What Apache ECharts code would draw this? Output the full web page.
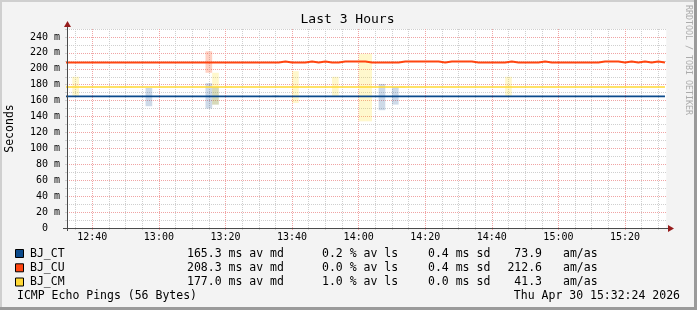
<!DOCTYPE html>
<html><head><meta charset="utf-8">
<style>html,body{margin:0;padding:0;background:#f3f3f3;}#c{width:697px;height:310px;}</style>
<script src="https://cdn.jsdelivr.net/npm/echarts@6/dist/echarts.min.js"></script>
</head><body><div id="c"></div>
<script>
// ---- data ----
const stepTimes = [
"12:32","12:34","12:36","12:38","12:40","12:42","12:44","12:46","12:48","12:50",
"12:52","12:54","12:56","12:58","13:00","13:02","13:04","13:06","13:08","13:10",
"13:12","13:14","13:16","13:18","13:20","13:22","13:24","13:26","13:28","13:30",
"13:32","13:34","13:36","13:38","13:40","13:42","13:44","13:46","13:48","13:50",
"13:52","13:54","13:56","13:58","14:00","14:02","14:04","14:06","14:08","14:10",
"14:12","14:14","14:16","14:18","14:20","14:22","14:24","14:26","14:28","14:30",
"14:32","14:34","14:36","14:38","14:40","14:42","14:44","14:46","14:48","14:50",
"14:52","14:54","14:56","14:58","15:00","15:02","15:04","15:06","15:08","15:10",
"15:12","15:14","15:16","15:18","15:20","15:22","15:24","15:26","15:28","15:30"];
const stepEnd = "15:32";
const ctMedian = [
165.3,165.3,165.3,165.3,165.3,165.3,165.3,165.3,165.3,165.3,
165.3,165.3,165.3,165.3,165.3,165.3,165.3,165.3,165.3,165.3,
165.3,165.3,165.3,165.3,165.3,165.3,165.3,165.3,165.3,165.3,
165.3,165.3,165.3,165.3,165.3,165.3,165.3,165.3,165.3,165.3,
165.3,165.3,165.3,165.3,165.3,165.3,165.3,165.3,165.3,165.3,
165.3,165.3,165.3,165.3,165.3,165.3,165.3,165.3,165.3,165.3,
165.3,165.3,165.3,165.3,165.3,165.3,165.3,165.3,165.3,165.3,
165.3,165.3,165.3,165.3,165.3,165.3,165.3,165.3,165.3,165.3,
165.3,165.3,165.3,165.3,165.3,165.3,165.3,165.3,165.3,165.3];
const cuMedian = [
208,208,208,208,208,208,208,208,208,208,
208,208,208,208,208,208,208,208,208,208,
208,208,208,208,208,208,208,208,208,208,
208,208,209.2,208,208,208,209.2,208,209.2,208,
208,209.2,209.2,209.2,209.2,208,208,208,208,208,
209.2,209.2,209.2,209.2,209.2,209.2,208,209.2,209.2,209.2,
209.2,208,208,208,208,208,209.2,208,208,208,
208,209.2,208,208,208,208,208,208,208,208,
209.2,209.2,209.2,208,209.2,208,209.2,208,209.2,208];
const cmMedian = [
177,177,177,177,177,177,177,177,177,177,
177,177,177,177,177,177,177,177,177,177,
177,177,177,177,177,177,177,177,177,177,
177,177,177,177,177,177,177,177,177,177,
177,177,177,177,177,177,177,177,177,177,
177,177,177,177,177,177,177,177,177,177,
177,177,177,177,177,177,177,177,177,177,
177,177,177,177,177,177,177,177,177,177,
177,177,177,177,177,177,177,177,177,177];
// smoke: [step start, min, max]
const ctSmoke = [["12:56",153,176],["13:14",150,182],["13:16",155,177],["13:34",164.5,166.5],["14:06",148,181],["14:10",155,177]];
const cuSmoke = [["13:14",195,222]];
const cmSmoke = [["12:34",165,190],["12:48",176,178],["12:50",176,178],["13:16",155,195],["13:20",176,178.5],["13:40",157,197],["13:52",166,190],["14:00",134,219],["14:02",134,219],["14:12",176,178.5],["14:44",166,190]];
const stepMinutes = 2;
const xStart = "12:32:24", xEnd = "15:32:24";
const xTickLabels = ["12:40","13:00","13:20","13:40","14:00","14:20","14:40","15:00","15:20"];
const xMinorStep = 5;
const yTickLabels = ["0","20 m","40 m","60 m","80 m","100 m","120 m","140 m","160 m","180 m","200 m","220 m","240 m"];
const yMax = 250;
const seriesNames = ["BJ_CT","BJ_CU","BJ_CM"];
const legMedian = ["165.3 ms av md","208.3 ms av md","177.0 ms av md"];
const legLoss = ["0.2 % av ls","0.0 % av ls","1.0 % av ls"];
const legSd = ["0.4 ms sd","0.4 ms sd","0.0 ms sd"];
const legAmas = ["73.9","212.6","41.3"];
const title = "Last 3 Hours";
const footerLeft = "ICMP Echo Pings (56 Bytes)";
const footerRight = "Thu Apr 30 15:32:24 2026";

// ---- helpers ----
function toMin(s){const p=s.split(':').map(Number);return p[0]*60+p[1]+(p[2]||0)/60;}
function fmt(m){const h=Math.floor(m/60),mm=Math.round(m-h*60);return h+':'+String(mm).padStart(2,'0');}
const majorX = xTickLabels.map(toMin);
const minorX = [];
for (let m = Math.ceil(toMin(xStart)/xMinorStep)*xMinorStep; m < toMin(xEnd); m += xMinorStep) if (majorX.indexOf(m) < 0) minorX.push(m);

const colors = ['#0b4a8b','#ff4510','#ffd835'];
const lineWidths = [1.6, 2, 1.5];
const smokeColors = ['rgba(10,70,140,0.2)','rgba(255,80,30,0.27)','rgba(255,222,0,0.2)'];
const FONT = 'DejaVu Sans Mono';
const MAJOR = '#f0a4a4', MINOR = '#cfcfcf', AXIS = '#4a4a4a', ARROW = '#961c1c';

function lineData(vals){
  const d = stepTimes.map((t,i)=>[toMin(t), vals[i]]);
  d.push([toMin(stepEnd), vals[vals.length-1]]);
  return d;
}
function smokeSeries(data, color){
  return {type:'custom', xAxisIndex:0, yAxisIndex:0, z:2, silent:true, clip:true,
    data: data.map(d=>[toMin(d[0]), d[1], d[2]]),
    encode:{x:0, y:[1,2]},
    renderItem:(params, api)=>{
      const t=api.value(0), lo=api.value(1), hi=api.value(2);
      const p1=api.coord([t,hi]), p2=api.coord([t+stepMinutes,lo]);
      return {type:'rect', shape:{x:p1[0],y:p1[1],width:p2[0]-p1[0],height:p2[1]-p1[1]}, style:{fill:color}};
    }};
}
function lineSeries(i, vals){
  return {type:'line', name:seriesNames[i], xAxisIndex:0, yAxisIndex:0, z:5, step:'end', symbol:'none', silent:true,
    data: lineData(vals), lineStyle:{color:colors[i], width:lineWidths[i]}, itemStyle:{color:colors[i]}};
}

const chart = echarts.init(document.getElementById('c'), null, {renderer:'canvas', devicePixelRatio:1});

const gridL=67, gridT=29, gridR=697-666.3, gridB=310-228;
const txt = (x,y,text,opt={}) => ({type:'text', x, y, silent:true, z:100, rotation:opt.rot||0,
  style:{text, fill:opt.color||'#000', font:(opt.size||11.5)+'px "'+FONT+'"', textAlign:opt.align||'left', textVerticalAlign:'middle'}});

const graphics = [
  {type:'rect', shape:{x:0,y:0,width:697,height:2}, style:{fill:'#cfcfcf'}, silent:true},
  {type:'rect', shape:{x:0,y:0,width:2,height:310}, style:{fill:'#cfcfcf'}, silent:true},
  {type:'rect', shape:{x:0,y:307,width:697,height:3}, style:{fill:'#9a9a9a'}, silent:true},
  {type:'rect', shape:{x:694,y:0,width:3,height:310}, style:{fill:'#9a9a9a'}, silent:true},
  txt(347.5, 19.5, title, {size:13, align:'center'}),
  txt(688.5, 60, 'RRDTOOL / TOBI OETIKER', {size:8.3, align:'center', color:'#ababab', rot:-Math.PI/2}),
  txt(10, 128.5, 'Seconds', {size:11.5, align:'center', rot:Math.PI/2}),
  {type:'line', shape:{x1:gridL+0.5,y1:231,x2:gridL+0.5,y2:26}, style:{stroke:AXIS,lineWidth:1}, z:50, silent:true},
  {type:'line', shape:{x1:63,y1:228.5,x2:669,y2:228.5}, style:{stroke:AXIS,lineWidth:1}, z:50, silent:true},
  {type:'polygon', shape:{points:[[gridL+0.5,21],[gridL-3,27],[gridL+4,27]]}, style:{fill:ARROW}, z:51, silent:true},
  {type:'polygon', shape:{points:[[674,228.5],[668,225],[668,232]]}, style:{fill:ARROW}, z:51, silent:true},
  txt(17, 296.5, footerLeft),
  txt(680, 296.5, footerRight, {align:'right'})
];
const rowY = [254, 268.3, 282.5];
for (let i=0;i<3;i++){
  const y=rowY[i];
  graphics.push({type:'rect', shape:{x:15.5,y:y-4.5,width:8,height:8}, style:{fill:colors[i], stroke:'#000', lineWidth:1}, z:100, silent:true});
  graphics.push(txt(30, y, seriesNames[i]));
  graphics.push(txt(187, y, legMedian[i]));
  graphics.push(txt(322, y, legLoss[i]));
  graphics.push(txt(428, y, legSd[i]));
  graphics.push(txt(542, y, legAmas[i], {align:'right'}));
  graphics.push(txt(563, y, 'am/as'));
}

const option = {
  backgroundColor:'#f3f3f3',
  animation:false,
  grid:{left:gridL, top:gridT, right:gridR, bottom:gridB, show:true, backgroundColor:'#ffffff', borderWidth:0, containLabel:false, outerBoundsMode:'none'},
  xAxis:[
    {type:'value', min:toMin(xStart), max:toMin(xEnd), position:'bottom',
     axisLine:{show:false},
     axisTick:{show:true, customValues:majorX, length:2, lineStyle:{color:MAJOR}},
     axisLabel:{show:true, customValues:majorX, formatter:v=>fmt(v), fontFamily:FONT, fontSize:10, color:'#000', margin:4},
     splitLine:{show:true, lineStyle:{color:MAJOR, width:1, type:[1,1]}}},
    {type:'value', min:toMin(xStart), max:toMin(xEnd), position:'bottom',
     axisLine:{show:false},
     axisTick:{show:true, customValues:minorX, length:2, lineStyle:{color:MINOR}},
     axisLabel:{show:false, customValues:minorX},
     splitLine:{show:true, lineStyle:{color:MINOR, width:1, type:[1,1]}}}
  ],
  yAxis:{type:'value', min:0, max:yMax, interval:10,
     axisLine:{show:false},
     axisTick:{show:true, length:2, lineStyle:{color:MINOR}},
     axisLabel:{interval:0, fontFamily:FONT, fontSize:10, color:'#000', margin:7,
       formatter:v=>{ if (v%20) return ''; const s=yTickLabels[v/20]; return s==='0' ? '0  ' : s; }},
     splitLine:{show:true, lineStyle:{color:[MAJOR,MINOR], width:1, type:[1,1]}}},
  series:[
    smokeSeries(ctSmoke, smokeColors[0]),
    smokeSeries(cuSmoke, smokeColors[1]),
    smokeSeries(cmSmoke, smokeColors[2]),
    lineSeries(0, ctMedian),
    lineSeries(1, cuMedian),
    lineSeries(2, cmMedian)
  ],
  graphic: graphics
};
chart.setOption(option);
</script></body></html>
